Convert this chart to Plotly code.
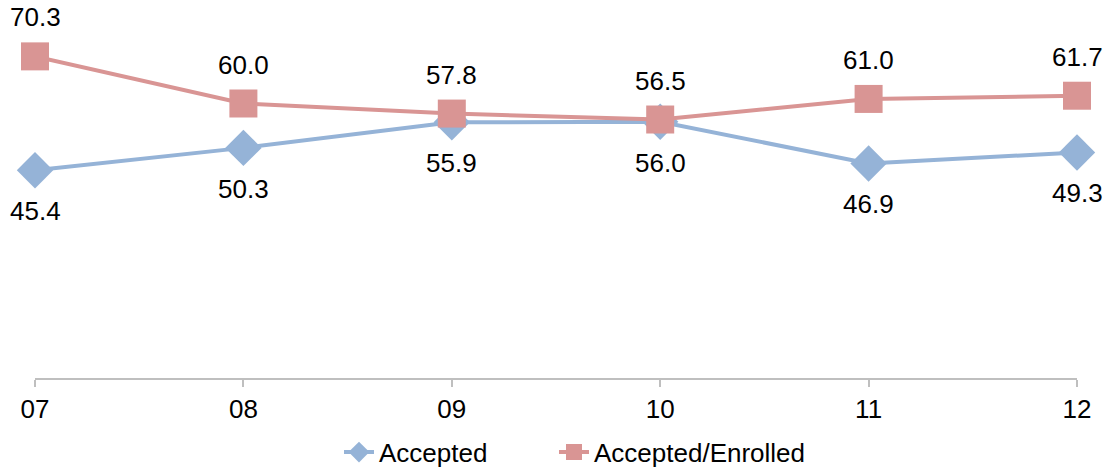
import plotly.graph_objects as go

categories = ["07", "08", "09", "10", "11", "12"]
accepted = [45.4, 50.3, 55.9, 56.0, 46.9, 49.3]
enrolled = [70.3, 60.0, 57.8, 56.5, 61.0, 61.7]

x = list(range(len(categories)))
blue = "#95B3D7"
red = "#D99594"
font = "Liberation Sans, Arial, sans-serif"
fs = 26

fig = go.Figure()
fig.add_trace(go.Scatter(
    x=x, y=accepted, mode="lines+markers", name="Accepted",
    line=dict(color=blue, width=4),
    marker=dict(symbol="diamond", size=28, color=blue),
    legend="legend",
))
fig.add_trace(go.Scatter(
    x=x, y=enrolled, mode="lines+markers", name="Accepted/Enrolled",
    line=dict(color=red, width=4),
    marker=dict(symbol="square", size=28, color=red),
    legend="legend2",
))

annotations = []
for xi, v in zip(x, accepted):
    annotations.append(dict(x=xi, y=v, xref="x", yref="y", text=f"{v:.1f}",
                            showarrow=False, yshift=-41,
                            font=dict(family=font, size=fs, color="#000")))
for xi, v in zip(x, enrolled):
    annotations.append(dict(x=xi, y=v, xref="x", yref="y", text=f"{v:.1f}",
                            showarrow=False, yshift=39,
                            font=dict(family=font, size=fs, color="#000")))

leg_common = dict(orientation="h", xref="container", yref="container",
                  xanchor="left", yanchor="middle", y=0.038,
                  font=dict(family=font, size=fs), bgcolor="rgba(0,0,0,0)")

fig.update_layout(
    width=1108, height=470,
    margin=dict(l=35, r=31, t=12, b=92, autoexpand=False),
    paper_bgcolor="white", plot_bgcolor="white",
    font=dict(family=font, size=fs, color="#000"),
    showlegend=True,
    legend=dict(x=339 / 1108, **leg_common),
    legend2=dict(x=554 / 1108, **leg_common),
    annotations=annotations,
    xaxis=dict(
        tickmode="array", tickvals=x, ticktext=categories,
        range=[0, len(categories) - 1], automargin=False,
        showgrid=False, zeroline=False,
        showline=True, linecolor="#BFBFBF", linewidth=2,
        ticks="outside", ticklen=7, tickcolor="#BFBFBF", tickwidth=2,
        tickfont=dict(family=font, size=fs, color="#000"),
    ),
    yaxis=dict(range=[0, 80], visible=False, showgrid=False, zeroline=False, automargin=False),
)
fig.update_traces(cliponaxis=False)

fig.write_html("out.html", config={"displayModeBar": False},
               post_script="document.body.style.margin='0';")
